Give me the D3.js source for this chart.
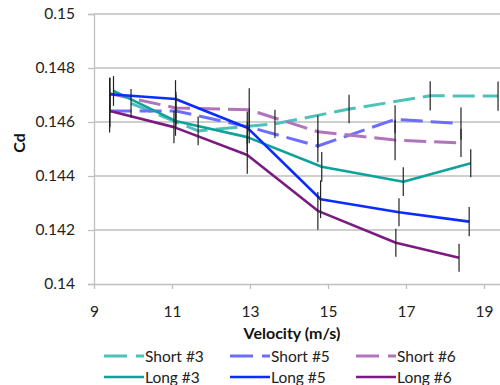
<!DOCTYPE html>
<html><head><meta charset="utf-8">
<script src="https://cdn.jsdelivr.net/npm/d3@7"></script>
<style>
html,body{margin:0;padding:0;background:#fff;}
svg{display:block;font-family:Lato, "Noto Sans", sans-serif;}
</style></head>
<body>
<svg id="chart" width="500" height="385"></svg>
<script>
// ---- data ----
const xTicks = [9, 11, 13, 15, 17, 19];
const yTicks = [0.14, 0.142, 0.144, 0.146, 0.148, 0.15];
const seriesNames = ["Short #3", "Short #5", "Short #6", "Long #3", "Long #5", "Long #6"];
const seriesColors = ["#4fc1bb", "#6d6dff", "#b173bb", "#0ea29b", "#0a2cff", "#7b1b82"];
const seriesDashed = [true, true, true, false, false, false];

const short3V = [9.95, 11.67, 13.64, 15.54, 17.62, 19.36];
const short3Cd = [0.14669, 0.14567, 0.14593, 0.14648, 0.14697, 0.14696];
const short3Err = [0.00053, 0.00053, 0.00052, 0.00053, 0.00054, 0.00054];

const short5V = [9.4, 11.1, 12.98, 14.74, 16.72, 18.41];
const short5Cd = [0.14641, 0.14641, 0.14581, 0.14511, 0.14610, 0.14594];
const short5Err = [0.0008, 0.0006, 0.0006, 0.0006, 0.00052, 0.0006];

const short6V = [9.4, 11.1, 12.98, 14.74, 16.72, 18.41];
const short6Cd = [0.14705, 0.14652, 0.14645, 0.14564, 0.14533, 0.14522];
const short6Err = [0.0006, 0.0006, 0.0008, 0.0006, 0.00075, 0.00052];

const long3V = [9.5, 11.09, 12.93, 14.84, 16.93, 18.66];
const long3Cd = [0.14715, 0.14604, 0.14544, 0.14434, 0.14379, 0.14447];
const long3Err = [0.00055, 0.00055, 0.00055, 0.00055, 0.00053, 0.00052];

const long5V = [9.41, 11.09, 12.93, 14.81, 16.82, 18.62];
const long5Cd = [0.14703, 0.14685, 0.14579, 0.14314, 0.14266, 0.14231];
const long5Err = [0.0006, 0.0007, 0.0006, 0.0007, 0.00052, 0.00054];

const long6V = [9.41, 11.05, 12.93, 14.74, 16.74, 18.36];
const long6Cd = [0.14641, 0.14581, 0.14478, 0.14271, 0.14153, 0.14097];
const long6Err = [0.0006, 0.0006, 0.0007, 0.0007, 0.00052, 0.00052];

const seriesV = [short3V, short5V, short6V, long3V, long5V, long6V];
const seriesCd = [short3Cd, short5Cd, short6Cd, long3Cd, long5Cd, long6Cd];
const seriesErr = [short3Err, short5Err, short6Err, long3Err, long5Err, long6Err];

// ---- layout ----
const svg = d3.select("#chart");
const plotLeft = 94, plotTop = 14, plotBottom = 284;
const x = d3.scaleLinear().domain([9, 21]).range([plotLeft, plotLeft + 12 * 39.0]);
const y = d3.scaleLinear().domain([0.14, 0.15]).range([plotBottom, plotTop]);
const gridColor = "#bfbfbf";

// gridlines
svg.append("g").selectAll("line").data(yTicks.filter(d => d > 0.14)).join("line")
  .attr("x1", plotLeft).attr("x2", 500)
  .attr("y1", d => y(d)).attr("y2", d => y(d))
  .attr("stroke", gridColor).attr("stroke-width", 1.3);

// y axis
const yAxis = d3.axisLeft(y).tickValues(yTicks).tickSize(6).tickPadding(13)
  .tickFormat(d => String(+d.toFixed(3)));
const gy = svg.append("g").attr("transform", `translate(${plotLeft},0)`).call(yAxis);
gy.select(".domain").attr("stroke", gridColor).attr("stroke-width", 1.3);
gy.selectAll(".tick line").attr("stroke", gridColor).attr("stroke-width", 1.3);
gy.selectAll(".tick text").attr("font-size", 15.5).attr("fill", "#222").attr("font-family", "Lato, sans-serif");

// x axis
const xAxis = d3.axisBottom(x).tickValues(xTicks).tickSize(5).tickPadding(17).tickFormat(d3.format("d"));
const gx = svg.append("g").attr("transform", `translate(0,${plotBottom})`).call(xAxis);
gx.select(".domain").attr("d", `M${plotLeft},0.5H500`).attr("stroke", gridColor).attr("stroke-width", 1.3);
gx.selectAll(".tick line").attr("stroke", gridColor).attr("stroke-width", 1.3);
gx.selectAll(".tick text").attr("font-size", 15.5).attr("fill", "#222").attr("font-family", "Lato, sans-serif");

// axis titles
svg.append("text").attr("x", 292).attr("y", 339).attr("text-anchor", "middle")
  .attr("font-size", 16).attr("font-weight", "bold").attr("fill", "#111").text("Velocity (m/s)");
svg.append("text").attr("transform", "translate(25,143) rotate(-90)").attr("text-anchor", "middle")
  .attr("font-size", 16).attr("font-weight", "bold").attr("fill", "#111").text("Cd");

// series lines
const line = d3.line().x(d => x(d[0])).y(d => y(d[1]));
const order = [0, 1, 2, 3, 4, 5];
const gLines = svg.append("g");
order.forEach(i => {
  const pts = seriesV[i].map((v, k) => [v, seriesCd[i][k]]);
  gLines.append("path").datum(pts).attr("d", line).attr("fill", "none")
    .attr("stroke", seriesColors[i])
    .attr("stroke-width", seriesDashed[i] ? 3 : 2.6)
    .attr("stroke-dasharray", seriesDashed[i] ? "22,8" : null)
    .attr("stroke-linejoin", "round");
});

// error bars
const gErr = svg.append("g");
order.forEach(i => {
  seriesV[i].forEach((v, k) => {
    const c = seriesCd[i][k], e = seriesErr[i][k];
    gErr.append("line").attr("x1", x(v)).attr("x2", x(v))
      .attr("y1", y(c - e)).attr("y2", y(c + e))
      .attr("stroke", "#222").attr("stroke-width", 1.2);
  });
});

// legend
const legCols = [104, 230, 356];
const legRows = [356, 377];
seriesNames.forEach((name, i) => {
  const col = legCols[i % 3], row = legRows[Math.floor(i / 3)];
  svg.append("line").attr("x1", col).attr("x2", col + 40).attr("y1", row).attr("y2", row)
    .attr("stroke", seriesColors[i]).attr("stroke-width", seriesDashed[i] ? 3 : 2.6)
    .attr("stroke-dasharray", seriesDashed[i] ? "23,9" : null);
  svg.append("text").attr("x", col + 41).attr("y", row).attr("dy", "0.36em")
    .attr("font-size", 15.5).attr("fill", "#222").text(name);
});
</script>
</body></html>
